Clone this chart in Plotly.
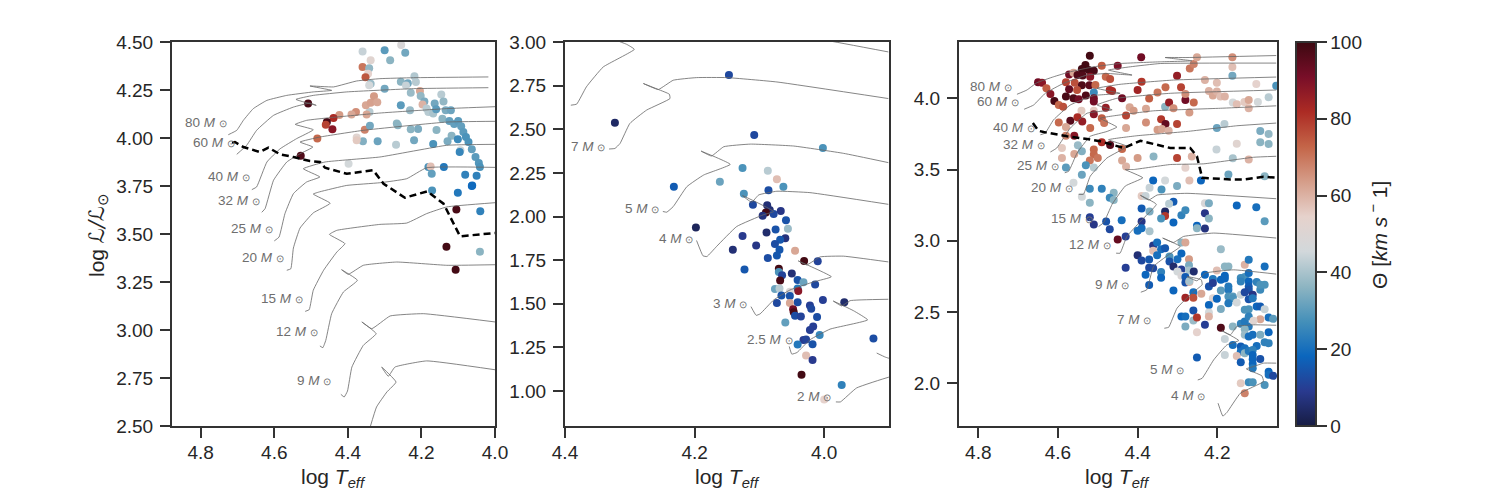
import plotly.graph_objects as go

# etoiles, panneau gauche
a_t = [4.36, 4.30, 4.285, 4.255, 4.244, 4.338, 4.36, 4.342, 4.345, 4.352,
       4.338, 4.342, 4.30, 4.256, 4.237, 4.219, 4.215, 4.242, 4.229, 4.204,
       4.202, 4.192, 4.197, 4.146, 4.14, 4.164, 4.186, 4.181, 4.168, 4.16,
       4.134, 4.12, 4.143, 4.124, 4.111, 4.10, 4.092, 4.086, 4.079, 4.072,
       4.063, 4.053, 4.044, 4.041, 4.118, 4.129, 4.101, 4.094, 4.096, 4.168,
       4.159, 4.209, 4.229, 4.22, 4.269, 4.319, 4.359, 4.376, 4.376, 4.354,
       4.34, 4.267, 4.264, 4.256, 4.231, 4.341, 4.349, 4.351, 4.338, 4.329,
       4.32, 4.378, 4.39, 4.423, 4.439, 4.457, 4.46, 4.442, 4.483, 4.508,
       4.528, 4.398, 4.181, 4.175, 4.172, 4.139, 4.081, 4.05, 4.171, 4.101,
       4.063, 4.062, 4.04, 4.105, 4.132, 4.041, 4.107]
a_l = [4.45, 4.457, 4.405, 4.485, 4.444, 4.405, 4.37, 4.363, 4.335, 4.316,
       4.283, 4.275, 4.257, 4.293, 4.285, 4.321, 4.292, 4.274, 4.236, 4.245,
       4.219, 4.19, 4.175, 4.227, 4.19, 4.18, 4.153, 4.135, 4.127, 4.15,
       4.144, 4.144, 4.10, 4.089, 4.073, 4.089, 4.061, 4.031, 4.005, 3.979,
       3.941, 3.901, 3.87, 3.849, 4.012, 3.983, 3.993, 3.936, 3.927, 3.969,
       4.042, 4.047, 4.045, 3.988, 3.965, 3.983, 3.983, 4.002, 3.988, 4.043,
       4.064, 4.075, 4.066, 4.17, 4.144, 4.135, 4.123, 4.17, 4.184, 4.217,
       4.186, 4.135, 4.123, 4.12, 4.104, 4.083, 4.069, 4.045, 3.997, 4.18,
       3.908, 3.866, 3.849, 3.852, 3.814, 3.849, 3.809, 3.804, 3.726, 3.715,
       3.75, 3.753, 3.618, 3.627, 3.434, 3.408, 3.314]
a_v = [44, 30, 36, 48, 33, 52, 70, 37, 54, 75,
       38, 46, 33, 36, 33, 41, 42, 44, 38, 62,
       37, 34, 60, 42, 37, 33, 42, 42, 40, 30,
       34, 32, 36, 31, 31, 30, 31, 30, 28, 28,
       31, 30, 29, 28, 36, 34, 26, 44, 25, 28,
       36, 34, 36, 33, 42, 32, 35, 52, 56, 68,
       33, 36, 36, 30, 38, 42, 62, 62, 63, 64,
       62, 66, 62, 64, 82, 98, 78, 88, 72, 98,
       97, 46, 28, 58, 31, 22, 24, 24, 28, 22,
       19, 19, 24, 98, 99, 36, 99]

# etoiles, panneau central
b_t = [4.147, 4.323, 4.108, 4.002, 4.126, 4.087, 4.161, 4.073, 4.063, 4.232,
       4.086, 4.124, 4.11, 4.088, 4.084, 4.067, 4.09, 4.078, 4.095, 4.059,
       4.198, 4.075, 4.056, 4.089, 4.126, 4.06, 4.068, 4.076, 4.105, 4.141,
       4.069, 4.045, 4.073, 4.087, 4.031, 4.01, 4.123, 4.07, 4.07, 4.065,
       4.05, 4.068, 4.041, 4.032, 4.014, 4.076, 4.069, 4.041, 4.04, 4.053,
       4.066, 4.053, 4.073, 4.041, 4.053, 4.022, 4.02, 4.002, 3.969, 4.048,
       4.047, 4.045, 4.036, 4.011, 4.06, 4.017, 4.022, 4.007, 4.032, 4.028,
       4.041, 4.018, 3.924, 4.028, 4.018, 4.035, 3.973, 4.0]
b_l = [2.811, 2.537, 2.467, 2.392, 2.278, 2.263, 2.2, 2.213, 2.17, 2.17,
       2.15, 2.13, 2.067, 2.065, 2.038, 2.032, 2.023, 2.015, 2.004, 1.979,
       1.937, 1.926, 1.93, 1.909, 1.888, 1.876, 1.867, 1.842, 1.834, 1.81,
       1.81, 1.804, 1.777, 1.762, 1.746, 1.744, 1.697, 1.701, 1.682, 1.664,
       1.674, 1.634, 1.636, 1.623, 1.611, 1.585, 1.588, 1.588, 1.573, 1.569,
       1.547, 1.545, 1.505, 1.509, 1.505, 1.49, 1.472, 1.522, 1.509, 1.469,
       1.452, 1.431, 1.427, 1.425, 1.393, 1.37, 1.35, 1.322, 1.292, 1.296,
       1.267, 1.269, 1.301, 1.204, 1.178, 1.094, 1.035, 0.952]
b_v = [12, 4, 12, 28, 28, 42, 32, 58, 28, 16,
       13, 28, 12, 6, 6, 8, 99, 12, 7, 14,
       3, 14, 38, 5, 9, 7, 15, 13, 8, 6,
       15, 62, 15, 13, 99, 11, 15, 99, 28, 11,
       6, 98, 14, 32, 12, 32, 42, 22, 88, 48,
       14, 14, 12, 13, 62, 10, 12, 10, 5, 92,
       98, 13, 11, 13, 31, 10, 10, 25, 9, 11,
       22, 14, 13, 58, 9, 99, 24, 54]

# etoiles, panneau droit
c_t = [4.52, 4.391, 4.531, 4.49, 4.45, 4.54, 4.523, 4.51, 4.572, 4.561,
       4.551, 4.538, 4.519, 4.48, 4.469, 4.65, 4.64, 4.58, 4.558, 4.54,
       4.521, 4.506, 4.629, 4.619, 4.572, 4.552, 4.51, 4.47, 4.464, 4.439,
       4.58, 4.561, 4.548, 4.53, 4.51, 4.51, 4.609, 4.598, 4.587, 4.541,
       4.51, 4.48, 4.51, 4.569, 4.551, 4.539, 4.598, 4.58, 4.519, 4.49,
       4.484, 4.559, 4.58, 4.429, 4.429, 4.42, 4.41, 4.379, 4.379, 4.341,
       4.33, 4.301, 4.35, 4.339, 4.322, 4.331, 4.321, 4.31, 4.371, 4.35,
       4.33, 4.291, 4.28, 4.28, 4.259, 4.27, 4.4, 4.39, 4.301, 4.269,
       4.259, 4.251, 4.231, 4.201, 4.221, 4.211, 4.201, 4.192, 4.181, 4.162,
       4.162, 4.162, 4.102, 4.052, 4.161, 4.151, 4.132, 4.121, 4.121, 4.098,
       4.071, 4.201, 4.182, 4.092, 4.071, 4.092, 4.071, 4.151, 4.202, 4.161,
       4.121, 4.301, 4.264, 4.36, 4.4, 4.439, 4.51, 4.51, 4.52, 4.5,
       4.469, 4.49, 4.59, 4.59, 4.559, 4.58, 4.55, 4.54, 4.53, 4.51,
       4.439, 4.429, 4.54, 4.28, 4.27, 4.241, 4.172, 4.081, 4.561, 4.361,
       4.331, 4.37, 4.34, 4.301, 4.52, 4.49, 4.46, 4.47, 4.46, 4.54,
       4.52, 4.39, 4.38, 4.31, 4.321, 4.39, 4.37, 4.331, 4.331, 4.29,
       4.28, 4.31, 4.341, 4.231, 4.221, 4.231, 4.221, 4.251, 4.251, 4.231,
       4.151, 4.102, 4.081, 4.52, 4.51, 4.479, 4.47, 4.44, 4.39, 4.39,
       4.4, 4.37, 4.43, 4.45, 4.4, 4.39, 4.371, 4.361, 4.351, 4.361,
       4.341, 4.331, 4.351, 4.32, 4.29, 4.3, 4.32, 4.31, 4.29, 4.371,
       4.361, 4.43, 4.38, 4.341, 4.341, 4.371, 4.31, 4.29, 4.28, 4.271,
       4.271, 4.271, 4.3, 4.29, 4.259, 4.28, 4.28, 4.27, 4.27, 4.26,
       4.24, 4.28, 4.26, 4.231, 4.221, 4.211, 4.211, 4.211, 4.221, 4.221,
       4.221, 4.201, 4.191, 4.181, 4.172, 4.181, 4.191, 4.181, 4.191, 4.172,
       4.172, 4.201, 4.172, 4.161, 4.161, 4.172, 4.191, 4.151, 4.141, 4.131,
       4.121, 4.131, 4.141, 4.141, 4.121, 4.121, 4.121, 4.121, 4.131, 4.111,
       4.121, 4.111, 4.101, 4.092, 4.081, 4.081, 4.092, 4.29, 4.28, 4.28,
       4.26, 4.26, 4.251, 4.231, 4.251, 4.191, 4.181, 4.181, 4.161, 4.251,
       4.161, 4.141, 4.131, 4.131, 4.121, 4.121, 4.121, 4.092, 4.101, 4.092,
       4.081, 4.071, 4.06, 4.109, 4.131, 4.131, 4.121, 4.111, 4.092, 4.071,
       4.081, 4.071, 4.141, 4.131, 4.141, 4.131, 4.121, 4.101, 4.111, 4.111,
       4.111, 4.092, 4.151, 4.141, 4.111, 4.111, 4.071, 4.071, 4.06, 4.121,
       4.111, 4.081, 4.141, 4.131]
c_l = [4.298, 4.288, 4.233, 4.228, 4.228, 4.205, 4.198, 4.193, 4.167, 4.179,
       4.163, 4.16, 4.151, 4.151, 4.135, 4.112, 4.109, 4.112, 4.109, 4.091,
       4.091, 4.093, 4.07, 4.03, 4.063, 4.058, 4.04, 4.058, 4.051, 4.0,
       4.012, 4.0, 3.993, 4.019, 4.0, 3.977, 3.981, 3.953, 3.94, 3.912,
       3.912, 3.933, 3.888, 3.842, 3.867, 3.837, 3.83, 3.798, 3.791, 3.86,
       3.826, 3.737, 3.737, 3.791, 3.879, 3.937, 3.912, 3.926, 3.83, 3.853,
       3.819, 3.819, 3.779, 3.784, 3.772, 3.94, 3.97, 3.93, 3.998, 4.04,
       4.077, 4.077, 3.988, 4.03, 3.97, 3.9, 4.058, 4.116, 4.158, 4.209,
       4.24, 4.288, 4.128, 4.109, 4.051, 4.019, 4.047, 4.012, 4.012, 4.288,
       4.219, 4.158, 4.1, 4.088, 3.97, 3.958, 3.974, 3.988, 3.93, 3.974,
       4.007, 3.791, 3.819, 3.77, 3.749, 3.691, 3.679, 3.681, 3.64, 3.579,
       3.57, 3.581, 3.591, 3.591, 3.581, 3.644, 3.64, 3.605, 3.563, 3.581,
       3.672, 3.691, 3.651, 3.581, 3.609, 3.514, 3.67, 3.628, 3.53, 3.514,
       3.563, 3.521, 3.463, 3.512, 3.423, 3.423, 3.465, 3.453, 3.407, 3.423,
       3.423, 3.372, 3.36, 3.384, 3.365, 3.365, 3.337, 3.302, 3.286, 3.309,
       3.267, 3.314, 3.314, 3.274, 3.26, 3.226, 3.205, 3.205, 3.174, 3.179,
       3.214, 3.128, 3.156, 3.263, 3.263, 3.193, 3.156, 3.105, 3.088, 3.086,
       3.247, 3.235, 3.137, 3.165, 3.114, 3.135, 3.081, 3.144, 3.135, 3.088,
       3.07, 3.067, 3.03, 3.009, 2.899, 2.862, 2.869, 2.967, 2.988, 2.93,
       2.941, 2.948, 2.899, 2.89, 2.911, 2.871, 2.855, 2.82, 2.799, 2.81,
       2.808, 2.81, 2.761, 2.78, 2.74, 2.689, 2.651, 2.988, 2.988, 2.871,
       2.829, 2.792, 2.785, 2.754, 2.785, 2.745, 2.707, 2.71, 2.717, 2.639,
       2.628, 2.6, 2.6, 2.761, 2.679, 2.731, 2.703, 2.597, 2.55, 2.496,
       2.468, 2.792, 2.941, 2.82, 2.82, 2.754, 2.726, 2.735, 2.651, 2.679,
       2.656, 2.593, 2.609, 2.609, 2.597, 2.562, 2.522, 2.567, 2.621, 2.831,
       2.867, 2.745, 2.738, 2.714, 2.773, 2.714, 2.679, 2.656, 2.639, 2.621,
       2.59, 2.597, 2.71, 2.656, 2.82, 2.691, 2.691, 2.468, 2.468, 2.398,
       2.511, 2.44, 2.461, 2.41, 2.358, 2.389, 2.311, 2.199, 2.269, 2.18,
       2.398, 2.417, 2.433, 2.515, 2.52, 2.468, 2.398, 2.45, 2.539, 2.539,
       2.52, 2.461, 2.452, 2.438, 2.379, 2.34, 2.328, 2.34, 2.34, 2.358,
       2.288, 2.281, 2.258, 2.246, 2.222, 2.211, 2.227, 2.262, 2.234, 2.199,
       2.169, 2.171, 2.192, 2.148, 2.136, 2.105, 2.08, 2.059, 2.052, 2.007,
       2.007, 1.988, 2.0, 1.93]
c_v = [99, 92, 99, 74, 90, 99, 99, 98, 92, 62,
       97, 97, 88, 72, 76, 92, 88, 78, 76, 97,
       95, 72, 74, 88, 94, 76, 26, 82, 82, 92,
       98, 97, 92, 97, 92, 92, 98, 72, 76, 56,
       56, 86, 88, 96, 82, 86, 72, 62, 72, 74,
       70, 88, 68, 62, 78, 62, 64, 62, 66, 80,
       94, 78, 64, 62, 60, 36, 86, 66, 74, 70,
       72, 78, 92, 66, 72, 64, 84, 80, 86, 70,
       68, 62, 60, 58, 60, 62, 60, 58, 60, 66,
       58, 33, 54, 28, 46, 58, 56, 62, 60, 46,
       42, 32, 42, 34, 37, 36, 36, 52, 44, 40,
       60, 78, 60, 36, 64, 72, 72, 72, 70, 70,
       96, 82, 56, 60, 62, 30, 38, 35, 28, 42,
       62, 60, 32, 54, 58, 18, 32, 36, 46, 18,
       46, 44, 28, 34, 26, 24, 36, 26, 36, 46,
       36, 56, 44, 16, 42, 16, 34, 4, 80, 24,
       26, 18, 28, 48, 34, 8, 36, 18, 36, 7,
       18, 20, 30, 10, 8, 14, 12, 20, 8, 20,
       20, 40, 10, 94, 6, 12, 15, 8, 20, 58,
       20, 15, 20, 28, 18, 20, 14, 5, 10, 12,
       12, 10, 18, 24, 18, 16, 18, 36, 62, 64,
       34, 40, 46, 48, 5, 16, 14, 60, 40, 20,
       62, 84, 76, 18, 14, 22, 10, 52, 18, 46,
       60, 58, 38, 36, 36, 18, 18, 18, 30, 22,
       22, 18, 28, 30, 28, 22, 34, 46, 44, 60,
       22, 28, 26, 24, 20, 18, 16, 14, 12, 8,
       14, 22, 24, 26, 20, 28, 28, 18, 20, 34,
       14, 38, 80, 10, 54, 97, 44, 44, 20, 16,
       36, 24, 22, 28, 28, 24, 22, 62, 18, 16,
       44, 20, 30, 52, 36, 38, 20, 20, 34, 18,
       24, 24, 16, 20, 20, 36, 22, 20, 24, 18,
       18, 14, 58, 16, 18, 22, 18, 20, 12, 26,
       28, 28, 56, 68]

# lignes tiretees
dash_a_t = [4.715, 4.707, 4.684, 4.639, 4.616, 4.584, 4.548, 4.503, 4.476, 4.462, 4.403, 4.331, 4.303, 4.245, 4.184, 4.14, 4.095, 4.0]
dash_a_l = [3.976, 3.979, 3.953, 3.927, 3.95, 3.915, 3.901, 3.88, 3.875, 3.845, 3.814, 3.832, 3.762, 3.689, 3.722, 3.658, 3.488, 3.505]
dash_c_t = [4.663, 4.649, 4.636, 4.577, 4.527, 4.494, 4.435, 4.393, 4.318, 4.268, 4.251, 4.238, 4.167, 4.134, 4.084, 4.05]
dash_c_l = [3.826, 3.772, 3.763, 3.733, 3.714, 3.698, 3.651, 3.702, 3.651, 3.651, 3.593, 3.442, 3.43, 3.43, 3.449, 3.442]

# traces evolutives, panneau gauche
a80_t = [4.725, 4.702, 4.684, 4.657, 4.62, 4.566, 4.494, 4.444, 4.503, 4.439, 4.376, 4.313, 4.222, 4.018]
a80_l = [4.017, 4.04, 4.092, 4.153, 4.196, 4.222, 4.24, 4.248, 4.271, 4.266, 4.297, 4.309, 4.314, 4.318]
a60_t = [4.702, 4.675, 4.648, 4.602, 4.548, 4.503, 4.486, 4.541, 4.494, 4.403, 4.222, 4.018]
a60_l = [3.915, 3.962, 4.04, 4.118, 4.161, 4.182, 4.17, 4.201, 4.222, 4.24, 4.257, 4.262]
a40_t = [4.661, 4.648, 4.62, 4.584, 4.539, 4.494, 4.543, 4.512, 4.448, 4.313, 4.131, 4.0]
a40_l = [3.731, 3.745, 3.875, 3.944, 3.997, 4.043, 4.071, 4.092, 4.106, 4.13, 4.153, 4.163]
a32_t = [4.634, 4.625, 4.602, 4.566, 4.53, 4.495, 4.53, 4.476, 4.358, 4.131, 4.0]
a32_l = [3.613, 3.632, 3.78, 3.875, 3.918, 3.953, 3.979, 4.005, 4.04, 4.083, 4.087]
a25_t = [4.6, 4.587, 4.571, 4.548, 4.512, 4.476, 4.521, 4.462, 4.313, 4.131, 4.0]
a25_l = [3.464, 3.484, 3.606, 3.71, 3.771, 3.797, 3.84, 3.875, 3.901, 3.962, 3.967]
a20_t = [4.566, 4.555, 4.548, 4.53, 4.494, 4.448, 4.494, 4.476, 4.403, 4.313, 4.24, 4.186, 4.0]
a20_l = [3.311, 3.319, 3.427, 3.531, 3.61, 3.66, 3.708, 3.72, 3.753, 3.767, 3.788, 3.845, 3.847]
a15_t = [4.516, 4.505, 4.494, 4.466, 4.43, 4.408, 4.45, 4.43, 4.313, 4.24, 4.186, 4.131, 4.0]
a15_l = [3.097, 3.106, 3.207, 3.311, 3.406, 3.45, 3.498, 3.519, 3.55, 3.557, 3.606, 3.641, 3.663]
a12_t = [4.476, 4.468, 4.46, 4.444, 4.412, 4.374, 4.417, 4.399, 4.358, 4.267, 4.131, 4.0]
a12_l = [2.917, 2.908, 2.946, 3.085, 3.198, 3.259, 3.314, 3.29, 3.337, 3.354, 3.337, 3.34]
a9_t = [4.419, 4.41, 4.401, 4.389, 4.358, 4.323, 4.362, 4.335, 4.285, 4.195, 4.0]
a9_l = [2.665, 2.651, 2.682, 2.807, 2.92, 2.981, 3.042, 3.007, 3.073, 3.085, 3.042]
a7_t = [4.34, 4.322, 4.294, 4.269, 4.308, 4.29, 4.272, 4.186, 4.0]
a7_l = [2.49, 2.599, 2.677, 2.729, 2.807, 2.759, 2.807, 2.839, 2.793]

# panneau central
b9_t = [4.391, 4.382, 4.367, 4.341, 4.293, 4.305, 4.32, 4.25, 4.1, 3.998, 3.901]
b9_l = [2.638, 2.644, 2.743, 2.857, 2.958, 2.987, 3.01, 3.06, 3.06, 3.01, 2.943]
b7_t = [4.332, 4.323, 4.315, 4.3, 4.274, 4.238, 4.239, 4.256, 4.279, 4.256, 4.233, 4.197, 4.15, 4.073, 3.901]
b7_l = [2.387, 2.39, 2.419, 2.533, 2.61, 2.676, 2.701, 2.728, 2.762, 2.728, 2.781, 2.796, 2.796, 2.771, 2.676]
b5_t = [4.249, 4.243, 4.233, 4.212, 4.186, 4.145, 4.19, 4.174, 4.155, 4.114, 4.047, 3.97, 3.901]
b5_l = [2.029, 2.025, 2.057, 2.171, 2.238, 2.299, 2.375, 2.347, 2.4, 2.415, 2.404, 2.362, 2.309]
b4_t = [4.197, 4.187, 4.181, 4.166, 4.135, 4.094, 4.078, 4.126, 4.112, 4.101, 4.073, 4.022, 3.901]
b4_l = [1.863, 1.775, 1.771, 1.829, 1.943, 2.01, 2.029, 2.12, 2.082, 2.124, 2.145, 2.137, 2.07]
b3_t = [4.113, 4.105, 4.099, 4.078, 4.053, 4.016, 3.989, 4.04, 4.027, 4.006, 3.97, 3.901]
b3_l = [1.484, 1.434, 1.442, 1.522, 1.579, 1.626, 1.655, 1.746, 1.723, 1.769, 1.773, 1.74]
b25_t = [4.054, 4.05, 4.042, 4.022, 3.991, 3.933, 3.955, 3.986, 3.973, 3.96, 3.901]
b25_l = [1.256, 1.212, 1.221, 1.294, 1.355, 1.408, 1.461, 1.516, 1.488, 1.518, 1.526]
b2_t = [3.982, 3.975, 3.95, 3.901, 3.85, 3.901, 3.906, 3.919]
b2_l = [0.938, 0.938, 1.018, 1.079, 1.12, 1.189, 1.195, 1.218]

# panneau droit
c80_t = [4.703, 4.678, 4.653, 4.611, 4.569, 4.51, 4.444, 4.343, 4.264, 4.331, 4.276, 4.052]
c80_l = [4.028, 4.058, 4.109, 4.151, 4.186, 4.221, 4.244, 4.256, 4.263, 4.286, 4.286, 4.3]
c60_t = [4.685, 4.661, 4.632, 4.586, 4.527, 4.477, 4.414, 4.473, 4.418, 4.343, 4.052]
c60_l = [3.923, 3.953, 4.035, 4.105, 4.163, 4.174, 4.163, 4.198, 4.221, 4.244, 4.247]
c40_t = [4.644, 4.632, 4.611, 4.569, 4.51, 4.444, 4.502, 4.444, 4.31, 4.052]
c40_l = [3.744, 3.756, 3.849, 3.953, 4.019, 4.035, 4.07, 4.098, 4.128, 4.149]
c32_t = [4.619, 4.603, 4.569, 4.527, 4.464, 4.502, 4.452, 4.318, 4.052]
c32_l = [3.623, 3.651, 3.791, 3.895, 3.919, 3.953, 4.0, 4.035, 4.058]
c25_t = [4.583, 4.573, 4.552, 4.519, 4.477, 4.452, 4.494, 4.46, 4.36, 4.192, 4.052]
c25_l = [3.477, 3.488, 3.616, 3.733, 3.767, 3.798, 3.86, 3.877, 3.912, 3.93, 3.947]
c20_t = [4.548, 4.536, 4.519, 4.477, 4.427, 4.473, 4.402, 4.276, 4.151, 4.052]
c20_l = [3.326, 3.326, 3.453, 3.581, 3.663, 3.709, 3.737, 3.767, 3.807, 3.826]
c15_t = [4.498, 4.485, 4.464, 4.431, 4.387, 4.431, 4.41, 4.318, 4.234, 4.109, 4.052]
c15_l = [3.1, 3.128, 3.256, 3.384, 3.442, 3.5, 3.5, 3.535, 3.54, 3.586, 3.593]
c12_t = [4.454, 4.444, 4.427, 4.393, 4.353, 4.393, 4.372, 4.351, 4.276, 4.052]
c12_l = [2.913, 2.913, 3.03, 3.136, 3.256, 3.319, 3.286, 3.321, 3.333, 3.295]
c9_t = [4.392, 4.377, 4.36, 4.322, 4.293, 4.337, 4.31, 4.285, 4.209, 4.052]
c9_l = [2.639, 2.656, 2.82, 2.902, 2.96, 3.019, 2.988, 3.03, 3.054, 3.019]
c7_t = [4.333, 4.322, 4.301, 4.264, 4.238, 4.24, 4.276, 4.251, 4.23, 4.159, 4.052]
c7_l = [2.386, 2.393, 2.527, 2.632, 2.691, 2.726, 2.749, 2.719, 2.773, 2.796, 2.766]
c5_t = [4.249, 4.238, 4.209, 4.176, 4.146, 4.188, 4.167, 4.151, 4.109, 4.052]
c5_l = [2.023, 2.035, 2.164, 2.269, 2.3, 2.368, 2.34, 2.398, 2.41, 2.407]
c4_t = [4.198, 4.186, 4.176, 4.142, 4.084, 4.088, 4.127, 4.109, 4.084, 4.052]
c4_l = [1.86, 1.77, 1.794, 1.93, 2.012, 2.052, 2.101, 2.117, 2.141, 2.141]

# etiquettes des masses
lab_a = ["80", "60", "40", "32", "25", "20", "15", "12", "9"]
lab_a_t = [4.732, 4.709, 4.67, 4.641, 4.607, 4.575, 4.525, 4.485, 4.448]
lab_a_l = [4.083, 3.979, 3.797, 3.675, 3.528, 3.377, 3.163, 2.993, 2.738]
lab_b = ["7", "5", "4", "3", "2.5", "2"]
lab_b_t = [4.34, 4.257, 4.204, 4.12, 4.049, 3.991]
lab_b_l = [2.4, 2.048, 1.876, 1.499, 1.298, 0.97]
lab_c = ["80", "60", "40", "32", "25", "20", "15", "12", "9", "7", "5", "4"]
lab_c_t = [4.718, 4.7, 4.661, 4.634, 4.6, 4.565, 4.515, 4.47, 4.425, 4.368, 4.285, 4.233]
lab_c_l = [4.081, 3.977, 3.798, 3.679, 3.528, 3.372, 3.156, 2.972, 2.696, 2.445, 2.094, 1.913]

W, H = 1489, 490
AXC = "#333333"
TXT = "#262626"
FONT = "Liberation Sans"


def px_x(a, b):
    return [a / W, b / W]


def px_y(top, bottom):
    return [(H - bottom) / H, (H - top) / H]


fig = go.Figure()

panels = [
    ("x", "y", a_t, a_l, a_v,
     [(a80_t, a80_l), (a60_t, a60_l), (a40_t, a40_l), (a32_t, a32_l), (a25_t, a25_l),
      (a20_t, a20_l), (a15_t, a15_l), (a12_t, a12_l), (a9_t, a9_l), (a7_t, a7_l)],
     (dash_a_t, dash_a_l), lab_a, lab_a_t, lab_a_l),
    ("x2", "y2", b_t, b_l, b_v,
     [(b9_t, b9_l), (b7_t, b7_l), (b5_t, b5_l), (b4_t, b4_l), (b3_t, b3_l),
      (b25_t, b25_l), (b2_t, b2_l)],
     None, lab_b, lab_b_t, lab_b_l),
    ("x3", "y3", c_t, c_l, c_v,
     [(c80_t, c80_l), (c60_t, c60_l), (c40_t, c40_l), (c32_t, c32_l), (c25_t, c25_l),
      (c20_t, c20_l), (c15_t, c15_l), (c12_t, c12_l), (c9_t, c9_l), (c7_t, c7_l),
      (c5_t, c5_l), (c4_t, c4_l)],
     (dash_c_t, dash_c_l), lab_c, lab_c_t, lab_c_l),
]

for xa, ya, st, sl, sv, tracks, dash, lab, lab_t, lab_l in panels:
    fig.add_trace(go.Scatter(x=st, y=sl, xaxis=xa, yaxis=ya, mode="markers", showlegend=False,
                             marker=dict(size=8, color=sv, coloraxis="coloraxis", line_width=0)))
    for tt, tl in tracks:
        fig.add_trace(go.Scatter(x=tt, y=tl, xaxis=xa, yaxis=ya, mode="lines", showlegend=False,
                                 line=dict(color="#666666", width=0.8, shape="spline", smoothing=0.35)))
    if dash:
        fig.add_trace(go.Scatter(x=dash[0], y=dash[1], xaxis=xa, yaxis=ya, mode="lines", showlegend=False,
                                 line=dict(color="black", width=2.5, dash="7px,4px")))
    for m, lt, ll in zip(lab, lab_t, lab_l):
        fig.add_annotation(x=lt, y=ll, xref=xa, yref=ya,
                           text=m + ' <i>M</i> <span style="font-size:10px">⊙</span>', showarrow=False,
                           xanchor="right", yanchor="middle", xshift=3,
                           font=dict(family=FONT, size=13.5, color="#6e6e6e"))

axis_common = dict(showgrid=False, zeroline=False, showline=True, mirror=True, linecolor=AXC, linewidth=2,
                   ticks="outside", ticklen=10, tickwidth=2, tickcolor=AXC, automargin=False,
                   tickfont=dict(family=FONT, size=19, color=TXT))
x_common = dict(ticklabelstandoff=-2, **axis_common)
y_common = dict(ticklabelstandoff=3, **axis_common)

fig.update_layout(
    width=W, height=H, margin=dict(l=0, r=0, t=0, b=0),
    paper_bgcolor="white", plot_bgcolor="white",
    xaxis=dict(domain=px_x(172, 495), range=[4.878, 4.0], tickvals=[4.8, 4.6, 4.4, 4.2, 4.0], tickformat=".1f",
               anchor="y", **x_common),
    yaxis=dict(domain=px_y(42, 426), range=[2.5, 4.5], tickvals=[2.5, 2.75, 3.0, 3.25, 3.5, 3.75, 4.0, 4.25, 4.5],
               tickformat=".2f", anchor="x", **y_common),
    xaxis2=dict(domain=px_x(565, 889), range=[4.4, 3.9], tickvals=[4.4, 4.2, 4.0], tickformat=".1f",
                anchor="y2", **x_common),
    yaxis2=dict(domain=px_y(42, 426), range=[0.8, 3.0], tickvals=[1.0, 1.25, 1.5, 1.75, 2.0, 2.25, 2.5, 2.75, 3.0],
                tickformat=".2f", anchor="x2", **y_common),
    xaxis3=dict(domain=px_x(959, 1277), range=[4.8485, 4.05], tickvals=[4.8, 4.6, 4.4, 4.2], tickformat=".1f",
                anchor="y3", **x_common),
    yaxis3=dict(domain=px_y(42, 426), range=[1.70, 4.395], tickvals=[2.0, 2.5, 3.0, 3.5, 4.0],
                tickformat=".1f", anchor="x3", **y_common),
    coloraxis=dict(
        colorscale="balance", cmin=0, cmax=100,
        colorbar=dict(x=1296 / W, xanchor="left", xpad=0, ypad=0, y=(H - 426) / H, yanchor="bottom",
                      lenmode="pixels", len=384, thicknessmode="pixels", thickness=20,
                      outlinecolor=AXC, outlinewidth=2, ticks="outside", ticklen=10, tickwidth=2, tickcolor=AXC,
                      tickprefix="\u2009",
                      tickvals=[0, 20, 40, 60, 80, 100], tickfont=dict(family=FONT, size=19, color=TXT)),
    ),
)

# titres d'axes places a la main
for cx in [333, 727, 1117]:
    fig.add_annotation(x=cx / W, y=(H - 478) / H, xref="paper", yref="paper", showarrow=False,
                       xanchor="center", yanchor="middle",
                       text="log <i>T<sub>eff</sub></i>", font=dict(family=FONT, size=21, color=TXT))
fig.add_annotation(x=98 / W, y=(H - 235) / H, xref="paper", yref="paper", showarrow=False, textangle=-90,
                   xanchor="center", yanchor="middle",
                   text='log <span style="font-family:DejaVu Sans;font-style:italic">ℒ/ℒ</span><sub>⊙</sub>',
                   font=dict(family=FONT, size=21, color=TXT))
fig.add_annotation(x=1378 / W, y=(H - 235) / H, xref="paper", yref="paper", showarrow=False, textangle=-90,
                   xanchor="center", yanchor="middle",
                   text="Θ [<i>km s</i><sup> −</sup> 1]", font=dict(family=FONT, size=21, color=TXT))

# pas de marge autour de la figure dans la page
fig.write_html("out.html", config={"displayModeBar": False}, post_script="document.body.style.margin='0';")
